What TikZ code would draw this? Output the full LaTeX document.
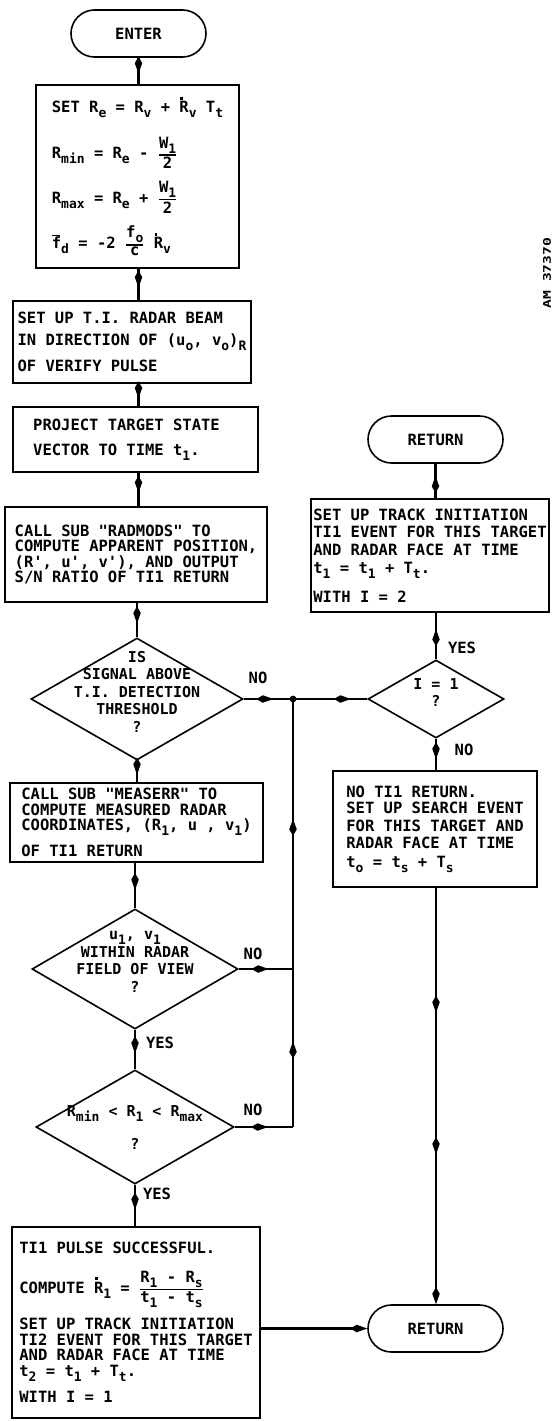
\documentclass[tikz,border=0pt]{standalone}
\usepackage{fontspec}
\usepackage{amsmath}
\usetikzlibrary{shapes.geometric,shapes.misc,arrows.meta,decorations.markings}
\newfontfamily\lettering{DejaVu Sans Mono}
\newfontfamily\widelettering{DejaVu Sans Mono}[FakeStretch=1.4]
\newcommand\lfont{\lettering\bfseries\fontsize{15.5}{15.5}\selectfont}
% lowered index letters
\newcommand\sbx[1]{\raisebox{-5pt}{\fontsize{13}{13}\selectfont #1}}
% stacked fraction built from text boxes
\newcommand\frc[2]{$\genfrac{}{}{1.3pt}{}{\hbox{#1}}{\hbox{#2}}$}
% R with a dot (time derivative)
\newcommand\dotR{\makebox[0pt][l]{\kern1pt\raisebox{13pt}{\rule{2.6pt}{2.6pt}}}R}
% f with a bar
\newcommand\fbar{\makebox[0pt][l]{\raisebox{12.5pt}{\rule{8.5pt}{1.3pt}}}f}
% centred text that does not enlarge a diamond
\newcommand\zc[1]{\smash{\makebox[0pt]{\begin{tabular}{@{}c@{}}#1\end{tabular}}}}

\tikzset{
  >={Kite[length=17pt,width=7.5pt,inset=6.5pt]},
  box/.style={draw, line width=1.6pt, rectangle, inner sep=0pt, align=left, font=\lfont},
  term/.style={draw, line width=1.6pt, rounded rectangle, inner sep=0pt, font=\lfont,
               minimum width=135pt, minimum height=47pt},
  dec/.style={draw, diamond, line width=1.6pt, inner sep=0pt,
              font=\lettering\bfseries\fontsize{15}{17.5}\selectfont},
  flow/.style={line width=2.6pt},
  mid/.style={postaction={decorate,decoration={markings,mark=at position #1 with {\arrow{>}}}}},
  lbl/.style={inner sep=0pt, font=\lfont},
}

\begin{document}
\begin{tikzpicture}[x=1pt,y=-1pt]
\useasboundingbox (0,0) rectangle (552,1421);

% ---- main column ----
\node[term] (enter) at (138.5,33.5) {ENTER};

\node[box, minimum width=203pt, minimum height=183pt] (b1) at (137.5,176.5)
  {SET R\sbx{e} = R\sbx{v} + \dotR\sbx{v} T\sbx{t}\\[18pt]
   R\sbx{min} = R\sbx{e} - \frc{W\sbx{1}}{2}\\[12pt]
   R\sbx{max} = R\sbx{e} + \frc{W\sbx{1}}{2}\\[12pt]
   \fbar\sbx{d} = -2 \frc{f\sbx{o}}{c} \dotR\sbx{v}\hspace*{14pt}};

\node[box, minimum width=238pt, minimum height=82pt] (b2) at (132,342)
  {SET UP T.I. RADAR BEAM\\[6pt]
   IN DIRECTION OF (u\sbx{o}, v\sbx{o})\sbx{R}\\[9pt]
   OF VERIFY PULSE};

\node[box, minimum width=245pt, minimum height=65pt] (b3) at (135.5,439.5)
  {PROJECT TARGET STATE\hspace*{18pt}\\[10pt]
   VECTOR TO TIME t\sbx{1}.};

\node[box, minimum width=262pt, minimum height=95pt] (b4) at (136,554.5)
  {CALL SUB "RADMODS" TO\\
   COMPUTE APPARENT POSITION,\\
   (R', u', v'), AND OUTPUT\\
   S/N RATIO OF TI1 RETURN};

\node[dec, minimum width=212pt, minimum height=122pt] (d1) at (137,699)
  {\raisebox{3pt}{\zc{IS\\SIGNAL ABOVE\\T.I. DETECTION\\THRESHOLD\\?}}};

\node[box, minimum width=253pt, minimum height=79pt] (b5) at (136.5,822.5)
  {CALL SUB "MEASERR" TO\\
   COMPUTE MEASURED RADAR\\
   COORDINATES, (R\sbx{1}, u , v\sbx{1})\\[8pt]
   OF TI1 RETURN};

\node[dec, minimum width=206pt, minimum height=120pt] (d2) at (135,969)
  {\raisebox{6pt}{\zc{u\sbx{1}, v\sbx{1}\\WITHIN RADAR\\FIELD OF VIEW\\?}}};

\node[dec, minimum width=198pt, minimum height=114pt] (d3) at (135,1127)
  {\raisebox{-12pt}{\zc{R\sbx{min} < R\sbx{1} < R\sbx{max}\\[16pt]?}}};

\node[box, minimum width=248pt, minimum height=191pt] (b6) at (136,1322.5)
  {TI1 PULSE SUCCESSFUL.\\[16pt]
   COMPUTE \dotR\sbx{1} = \frc{R\sbx{1} - R\sbx{s}}{t\sbx{1} - t\sbx{s}}\\[10pt]
   SET UP TRACK INITIATION\\
   TI2 EVENT FOR THIS TARGET\\
   AND RADAR FACE AT TIME\\
   t\sbx{2} = t\sbx{1} + T\sbx{t}.\\[9pt]
   WITH I = 1};

% ---- right column ----
\node[term] (ret1) at (435.5,439.5) {RETURN};

\node[box, minimum width=238pt, minimum height=113pt] (br1) at (430,555.5)
  {SET UP TRACK INITIATION\\[2pt]
   TI1 EVENT FOR THIS TARGET\\[2pt]
   AND RADAR FACE AT TIME\\[3pt]
   t\sbx{1} = t\sbx{1} + T\sbx{t}.\\[11pt]
   WITH I = 2};

\node[dec, minimum width=136pt, minimum height=78pt] (dr) at (436,699)
  {\raisebox{2pt}{\zc{I = 1\\?}}};

\node[box, minimum width=204pt, minimum height=116pt] (br2) at (435,829)
  {NO TI1 RETURN.\\[1pt]
   SET UP SEARCH EVENT\\[2pt]
   FOR THIS TARGET AND\\[2pt]
   RADAR FACE AT TIME\\[3pt]
   t\sbx{o} = t\sbx{s} + T\sbx{s}};

\node[term] (ret2) at (435.5,1328.5) {RETURN};

% ---- junction of the NO branches ----
\coordinate (j1) at (293,699);
\coordinate (j2) at (293,969);
\coordinate (j3) at (293,1127);

% ---- connectors, main column ----
\draw[flow,mid=0.6] (enter.south) -- (b1.north -| enter.south);
\draw[flow,mid=0.6] (b1.south -| enter.south) -- (b2.north -| enter.south);
\draw[flow,mid=0.65] (b2.south -| enter.south) -- (b3.north -| enter.south);
\draw[flow,mid=0.6] (b3.south -| enter.south) -- (b4.north -| enter.south);
\draw[flow,mid=0.6] (b4.south -| d1.north) -- (d1.north);
\draw[flow,mid=0.65] (d1.south) -- (b5.north -| d1.south);
\draw[flow,mid=0.6] (b5.south -| d2.north) -- (d2.north);
\draw[flow,mid=0.6] (d2.south) -- (d3.north);
\draw[flow,mid=0.6] (d3.south) -- (b6.north -| d3.south);

% ---- NO branches ----
\draw[flow,mid=0.6] (d1.east) -- (j1);
\draw[flow,mid=0.78] (j1) -- (dr.west);
\draw[flow,mid=0.55] (d2.east) -- (j2);
\draw[flow,mid=0.57] (d3.east) -- (j3);
\draw[flow,mid=0.2,mid=0.72] (j3) -- (j1);
\fill (j1) circle (3.4pt);

% ---- connectors, right column ----
\draw[flow,mid=0.65] (dr.north) -- (br1.south -| dr.north);
\draw[flow,mid=0.65] (br1.north -| ret1.south) -- (ret1.south);
\draw[flow,mid=0.65] (dr.south) -- (br2.north -| dr.south);
\draw[flow,mid=0.3,mid=0.64,->] (br2.south -| dr.south) -- (ret2.north -| dr.south);
\draw[flow,->] (b6.east |- ret2.west) -- (ret2.west);

% ---- branch labels ----
\node[lbl] (no1) at (258,678) {NO};
\node[lbl] (no2) at (253,954) {NO};
\node[lbl] (no3) at (253,1110) {NO};
\node[lbl] (yes2) at (160,1043) {YES};
\node[lbl] (yes3) at (157,1194) {YES};
\node[lbl] (yes4) at (462,648) {YES};
\node[lbl] (no4) at (464,750) {NO};

% ---- drawing number ----
\node[inner sep=0pt, rotate=90, font=\widelettering\bfseries\fontsize{10.5}{10.5}\selectfont] (dwg) at (547,273) {AM 37370};
\end{tikzpicture}
\end{document}
